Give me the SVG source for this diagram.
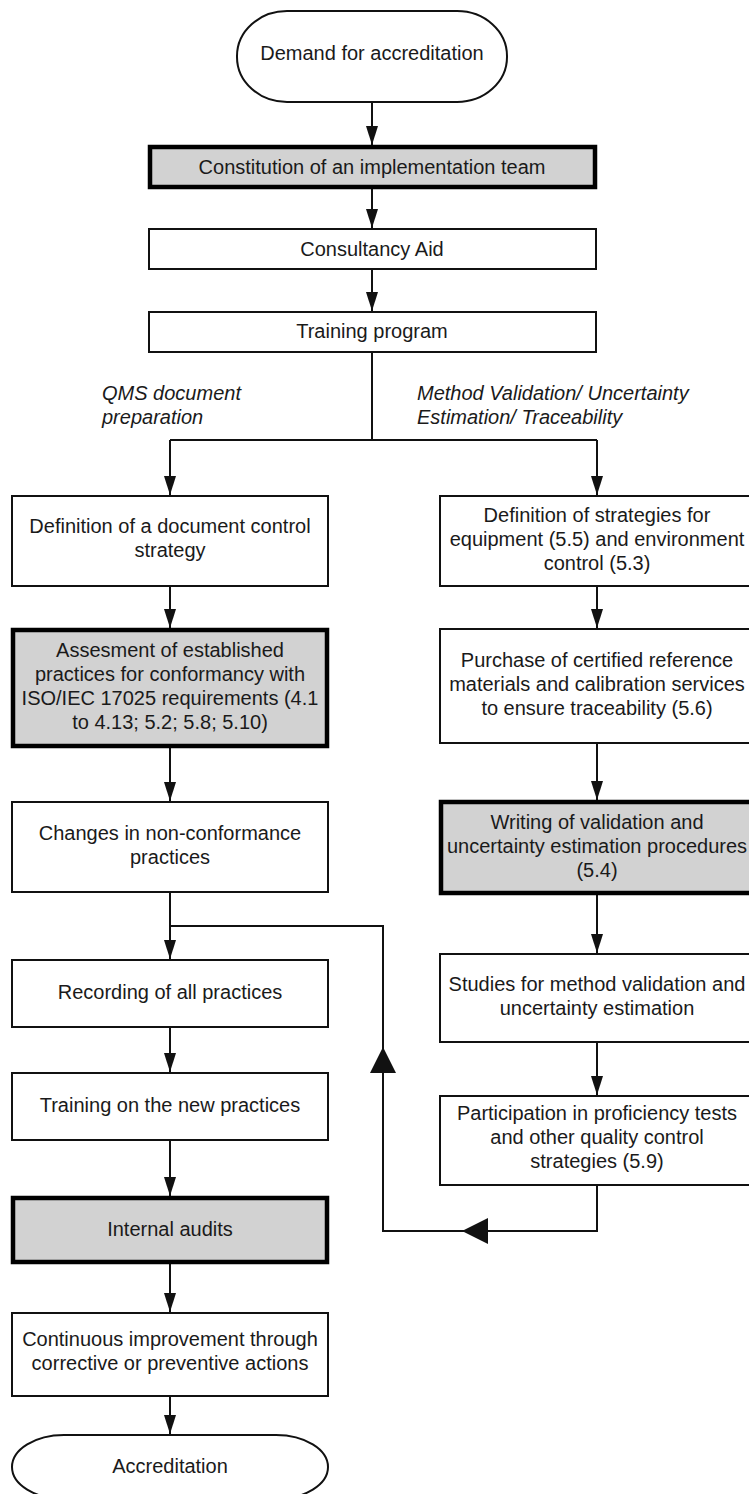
<svg xmlns="http://www.w3.org/2000/svg" width="749" height="1494" viewBox="0 0 749 1494">
<defs>
<style>
.box{fill:#ffffff;stroke:#111;stroke-width:2}
.key{fill:#d2d2d2;stroke:#000;stroke-width:4.5}
.term{fill:#ffffff;stroke:#111;stroke-width:2}
text{font-family:"Liberation Sans",Arial,sans-serif;font-size:20px;fill:#1a1a1a}
.c{text-anchor:middle}
.lbl{font-style:italic}
.ln{fill:none;stroke:#111;stroke-width:2}
</style>
<marker id="ah" viewBox="0 0 19 12" refX="19" refY="6" markerWidth="19" markerHeight="12" markerUnits="userSpaceOnUse" orient="auto">
<path d="M0,0 L19,6 L0,12 z" fill="#111"/>
</marker>
</defs>
<rect width="749" height="1494" fill="#ffffff"/>

<g id="connectors">
<line class="ln" x1="372" y1="102" x2="372" y2="145" marker-end="url(#ah)"/>
<line class="ln" x1="372" y1="189" x2="372" y2="228" marker-end="url(#ah)"/>
<line class="ln" x1="372" y1="270" x2="372" y2="311" marker-end="url(#ah)"/>
<polyline class="ln" points="372,352 372,440"/>
<polyline class="ln" points="170,440 597,440"/>
<line class="ln" x1="170" y1="440" x2="170" y2="495" marker-end="url(#ah)"/>
<line class="ln" x1="597" y1="440" x2="597" y2="495" marker-end="url(#ah)"/>
<line class="ln" x1="170" y1="586" x2="170" y2="628" marker-end="url(#ah)"/>
<line class="ln" x1="170" y1="748" x2="170" y2="801" marker-end="url(#ah)"/>
<line class="ln" x1="170" y1="892" x2="170" y2="959" marker-end="url(#ah)"/>
<line class="ln" x1="170" y1="1027" x2="170" y2="1072" marker-end="url(#ah)"/>
<line class="ln" x1="170" y1="1140" x2="170" y2="1196" marker-end="url(#ah)"/>
<line class="ln" x1="170" y1="1264" x2="170" y2="1312" marker-end="url(#ah)"/>
<line class="ln" x1="170" y1="1396" x2="170" y2="1434" marker-end="url(#ah)"/>
<line class="ln" x1="597" y1="586" x2="597" y2="628" marker-end="url(#ah)"/>
<line class="ln" x1="597" y1="743" x2="597" y2="800" marker-end="url(#ah)"/>
<line class="ln" x1="597" y1="894" x2="597" y2="953" marker-end="url(#ah)"/>
<line class="ln" x1="597" y1="1042" x2="597" y2="1095" marker-end="url(#ah)"/>
<polyline class="ln" points="597,1185 597,1231 383,1231 383,926 170,926"/>
<polygon points="462,1231 488,1218 488,1244" fill="#111"/>
<polygon points="383,1047 370,1073 396,1073" fill="#111"/>
</g>

<g id="n-start">
<rect class="term" x="237" y="11" width="270" height="91" rx="50" ry="45"/>
<text class="c" x="372" y="60">Demand for accreditation</text>
</g>
<g id="n-team">
<rect class="key" x="150" y="147" width="445" height="40"/>
<text class="c" x="372" y="174">Constitution of an implementation team</text>
</g>
<g id="n-consult">
<rect class="box" x="149" y="229" width="447" height="40"/>
<text class="c" x="372" y="256">Consultancy Aid</text>
</g>
<g id="n-training">
<rect class="box" x="149" y="312" width="447" height="40"/>
<text class="c" x="372" y="338">Training program</text>
</g>
<g id="labels">
<text class="lbl" x="102" y="400">QMS document</text>
<text class="lbl" x="102" y="424">preparation</text>
<text class="lbl" x="417" y="400">Method Validation/ Uncertainty</text>
<text class="lbl" x="417" y="424">Estimation/ Traceability</text>
</g>

<g id="n-doc">
<rect class="box" x="12" y="496" width="316" height="90"/>
<text class="c" x="170" y="533">Definition of a document control</text>
<text class="c" x="170" y="557">strategy</text>
</g>
<g id="n-assess">
<rect class="key" x="13" y="630" width="314" height="116"/>
<text class="c" x="170" y="657">Assesment of established</text>
<text class="c" x="170" y="681">practices for conformancy with</text>
<text class="c" x="170" y="705">ISO/IEC 17025 requirements (4.1</text>
<text class="c" x="170" y="729">to 4.13; 5.2; 5.8; 5.10)</text>
</g>
<g id="n-changes">
<rect class="box" x="12" y="802" width="316" height="90"/>
<text class="c" x="170" y="840">Changes in non-conformance</text>
<text class="c" x="170" y="864">practices</text>
</g>
<g id="n-recording">
<rect class="box" x="12" y="960" width="316" height="67"/>
<text class="c" x="170" y="999">Recording of all practices</text>
</g>
<g id="n-trainnew">
<rect class="box" x="12" y="1073" width="316" height="67"/>
<text class="c" x="170" y="1112">Training on the new practices</text>
</g>
<g id="n-audits">
<rect class="key" x="13" y="1198" width="314" height="64"/>
<text class="c" x="170" y="1236">Internal audits</text>
</g>
<g id="n-improve">
<rect class="box" x="12" y="1313" width="316" height="83"/>
<text class="c" x="170" y="1346">Continuous improvement through</text>
<text class="c" x="170" y="1370">corrective or preventive actions</text>
</g>
<g id="n-end">
<rect class="term" x="12" y="1435" width="316" height="64" rx="52" ry="32"/>
<text class="c" x="170" y="1473">Accreditation</text>
</g>

<g id="n-equip">
<rect class="box" x="440" y="496" width="316" height="90"/>
<text class="c" x="597" y="522">Definition of strategies for</text>
<text class="c" x="597" y="546">equipment (5.5) and environment</text>
<text class="c" x="597" y="570">control (5.3)</text>
</g>
<g id="n-purchase">
<rect class="box" x="440" y="629" width="316" height="114"/>
<text class="c" x="597" y="667">Purchase of certified reference</text>
<text class="c" x="597" y="691">materials and calibration services</text>
<text class="c" x="597" y="715">to ensure traceability (5.6)</text>
</g>
<g id="n-writing">
<rect class="key" x="441" y="802" width="314" height="91"/>
<text class="c" x="597" y="829">Writing of validation and</text>
<text class="c" x="597" y="853">uncertainty estimation procedures</text>
<text class="c" x="597" y="877">(5.4)</text>
</g>
<g id="n-studies">
<rect class="box" x="440" y="954" width="316" height="88"/>
<text class="c" x="597" y="991">Studies for method validation and</text>
<text class="c" x="597" y="1015">uncertainty estimation</text>
</g>
<g id="n-proficiency">
<rect class="box" x="440" y="1096" width="316" height="89"/>
<text class="c" x="597" y="1120">Participation in proficiency tests</text>
<text class="c" x="597" y="1144">and other quality control</text>
<text class="c" x="597" y="1168">strategies (5.9)</text>
</g>
</svg>
